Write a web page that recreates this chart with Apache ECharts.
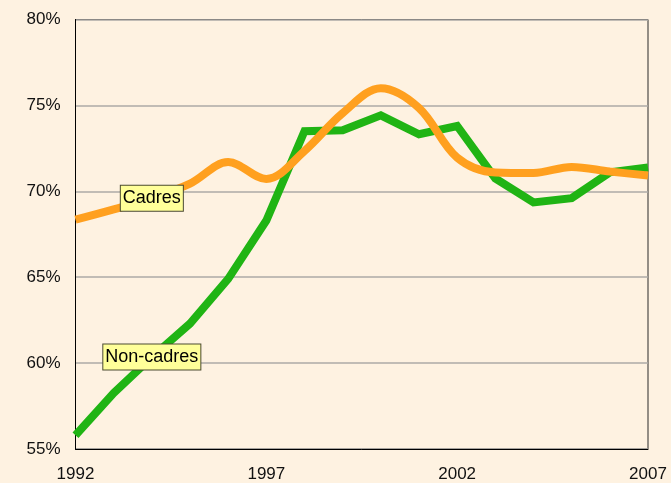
<!DOCTYPE html>
<html>
<head>
<meta charset="utf-8">
<script src="https://cdn.jsdelivr.net/npm/echarts@6/dist/echarts.min.js"></script>
<style>
  html, body { margin: 0; padding: 0; background: #fef2e1; }
  #chart { width: 671px; height: 483px; }
</style>
</head>
<body>
<div id="chart"></div>
<script>
// Years covered by both series
const years = [1992, 1993, 1994, 1995, 1996, 1997, 1998, 1999, 2000, 2001, 2002, 2003, 2004, 2005, 2006, 2007];

// Share (%) for each population
const cadres    = [68.35, 68.95, 69.6, 70.45, 71.7, 70.72, 72.35, 74.55, 76.0, 74.85, 71.96, 71.1, 71.07, 71.42, 71.15, 70.92];
const nonCadres = [55.8, 58.25, 60.35, 62.3, 64.9, 68.3, 73.5, 73.55, 74.42, 73.32, 73.8, 70.75, 69.35, 69.6, 71.1, 71.38];

// Series names shown as tags on the curves
const seriesNames = ['Cadres', 'Non-cadres'];
// Year at which each tag sits
const tagYear = 1994;

// Axis bounds and tick spacing
const yMin = 55, yMax = 80, yStep = 5;
const xMin = 1992, xMax = 2007, xStep = 5;

const FONT = 'Liberation Sans';

function withTag(vals, name) {
  return years.map((y, i) => {
    if (y !== tagYear) return [y, vals[i]];
    return {
      value: [y, vals[i]],
      label: {
        show: true,
        position: 'inside',
        formatter: name,
        color: '#000',
        fontFamily: FONT,
        fontSize: 18,
        lineHeight: 22,
        backgroundColor: '#ffff99',
        borderColor: '#4a4a30',
        borderWidth: 1,
        padding: [2, 2, 1, 2]
      }
    };
  });
}

const chart = echarts.init(document.getElementById('chart'), null, { renderer: 'canvas' });

chart.setOption({
  backgroundColor: '#fef2e1',
  animation: false,
  grid: {
    left: 75.5, right: 23, top: 19.5, bottom: 32,
    show: true,
    borderColor: '#2a2a2a',
    borderWidth: 1,
    backgroundColor: 'transparent'
  },
  xAxis: {
    type: 'value',
    min: xMin, max: xMax, interval: xStep,
    axisLine: { show: true, lineStyle: { color: '#000', width: 1 } },
    axisTick: { show: false },
    splitLine: { show: false },
    axisLabel: {
      color: '#111',
      fontFamily: FONT,
      fontSize: 17,
      margin: 17,
      formatter: v => String(v)
    }
  },
  yAxis: {
    type: 'value',
    min: yMin, max: yMax, interval: yStep,
    axisLine: { show: true, lineStyle: { color: '#000', width: 1 } },
    axisTick: { show: false },
    splitLine: { show: true, lineStyle: { color: '#acaaa6', width: 1.5 } },
    axisLabel: {
      color: '#111',
      fontFamily: FONT,
      fontSize: 17,
      margin: 15,
      formatter: v => v + '%'
    }
  },
  series: [
    {
      name: seriesNames[1],
      type: 'line',
      data: withTag(nonCadres, seriesNames[1]),
      showSymbol: true,
      symbol: 'circle',
      symbolSize: 0,
      lineStyle: { color: '#20b414', width: 8, join: 'miter' },
      itemStyle: { color: '#20b414' },
      z: 2
    },
    {
      name: seriesNames[0],
      type: 'line',
      data: withTag(cadres, seriesNames[0]),
      smooth: 0.35,
      showSymbol: true,
      symbol: 'circle',
      symbolSize: 0,
      lineStyle: { color: '#ffa01f', width: 8 },
      itemStyle: { color: '#ffa01f' },
      z: 3
    }
  ]
});
</script>
</body>
</html>
